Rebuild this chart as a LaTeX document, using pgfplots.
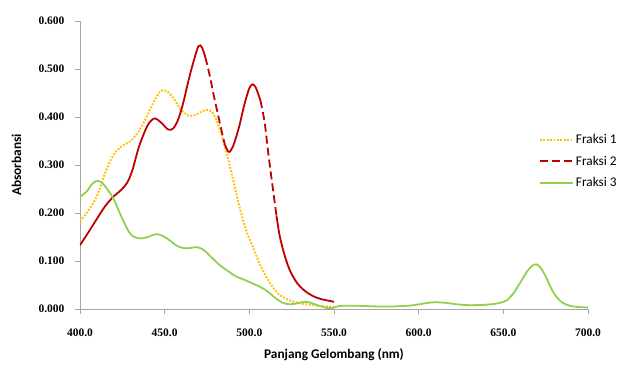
\documentclass[border=0pt]{standalone}
\usepackage{fontspec}
\setmainfont{Carlito}
\newfontfamily\tickfont{Liberation Serif}
\usepackage{pgfplots}
\pgfplotsset{compat=1.18}
\definecolor{c1}{HTML}{FFC000}
\definecolor{c2}{HTML}{C00000}
\definecolor{c3}{HTML}{92D050}
\begin{document}
\begin{tikzpicture}
\begin{axis}[
  at={(0,0)}, anchor=south west,
  scale only axis, width=508pt, height=288pt,
  xmin=400, xmax=700, ymin=0, ymax=0.6,
  xtick={400,450,...,700}, ytick={0,0.1,...,0.6},
  axis x line=bottom, axis y line=left,
  axis line style={-, draw=gray!70, line width=0.8pt},
  tick align=outside, major tick length=5pt,
  tick style={draw=gray!70, line width=0.8pt},
  /pgf/number format/assume math mode=true,
  xticklabel style={/pgf/number format/.cd, fixed, fixed zerofill, precision=1, /tikz/.cd, font=\tickfont\bfseries\fontsize{11.5}{12}\selectfont, yshift=-11pt},
  yticklabel style={/pgf/number format/.cd, fixed, fixed zerofill, precision=3, /tikz/.cd, font=\tickfont\bfseries\fontsize{11.5}{12}\selectfont, xshift=-7pt},
  xlabel={Panjang Gelombang (nm)}, ylabel={Absorbansi},
  every axis x label/.style={at={(axis description cs:0.5,-0.16)}, anchor=center, font=\bfseries\fontsize{13.3}{14}\selectfont},
  every axis y label/.style={at={(axis description cs:-0.125,0.5)}, rotate=90, anchor=center, font=\bfseries\fontsize{13.3}{14}\selectfont},
  legend style={at={(rel axis cs:0.903,0.613)}, anchor=north west, draw=none, fill=none, font=\fontsize{13.3}{14}\selectfont, row sep=6.6pt, inner sep=0pt},
  legend cell align=left,
  legend image code/.code={\draw[#1] (0pt,0pt) -- (33pt,0pt);},
]
% Fraksi 1
\addplot[c1, line width=2pt, dash pattern=on 1.8pt off 1.6pt, smooth, tension=0.5] coordinates {
(400,0.183)(405,0.205)(410,0.235)(415,0.285)(420,0.322)(425,0.340)(430,0.350)(435,0.372)(440,0.405)(444,0.435)(448,0.455)(452,0.452)(456,0.435)(460,0.414)(464,0.403)(468,0.404)(472,0.412)(476,0.415)(479,0.405)(482,0.380)(485,0.345)(488,0.305)(491,0.260)(494,0.215)(498,0.165)(502,0.130)(506,0.095)(510,0.067)(514,0.045)(518,0.029)(524,0.018)(530,0.012)(540,0.007)(550,0.004)};
\addlegendentry{Fraksi 1}
% Fraksi 2 (solid and dashed pieces)
\addplot[c2, line width=1.8pt, smooth, tension=0.5, forget plot] coordinates {
(400,0.133)(405,0.160)(410,0.188)(415,0.215)(420,0.235)(424,0.247)(428,0.264)(431,0.290)(435,0.340)(440,0.383)(444,0.397)(448,0.388)(452,0.374)(455,0.376)(458,0.395)(461,0.430)(464,0.475)(467,0.515)(470,0.548)(472,0.545)(474,0.525)};
\addplot[c2, line width=1.8pt, dash pattern=on 8pt off 4pt, smooth, tension=0.5] coordinates {
(474,0.525)(476.7,0.485)(479,0.445)(482.6,0.387)(485.5,0.343)};
\addlegendentry{Fraksi 2}
\addplot[c2, line width=1.8pt, smooth, tension=0.5, forget plot] coordinates {
(485.5,0.343)(487.5,0.328)(489,0.330)(491,0.345)(494,0.380)(497,0.425)(500,0.460)(502,0.468)(504,0.460)(506.5,0.435)};
\addplot[c2, line width=1.8pt, dash pattern=on 8pt off 4pt, smooth, tension=0.5, forget plot] coordinates {
(506.5,0.435)(509,0.390)(511,0.330)(513,0.275)(516,0.195)};
\addplot[c2, line width=1.8pt, smooth, tension=0.5, forget plot] coordinates {
(516,0.195)(518,0.151)(521,0.110)(524,0.080)(528,0.055)(532,0.040)(537,0.028)(542,0.021)(550,0.015)};
% Fraksi 3
\addplot[c3, line width=1.8pt, smooth, tension=0.5] coordinates {
(400,0.234)(404,0.245)(407,0.260)(410,0.267)(413,0.263)(416,0.250)(420,0.228)(425,0.188)(429,0.160)(432,0.150)(436,0.147)(440,0.150)(445,0.156)(449,0.152)(453,0.143)(457,0.132)(461,0.127)(465,0.127)(469,0.129)(473,0.123)(477,0.110)(482,0.093)(487,0.080)(492,0.068)(497,0.061)(502,0.053)(507,0.045)(511,0.036)(515,0.024)(519,0.014)(523,0.010)(527,0.011)(531,0.014)(534,0.015)(537,0.012)(541,0.007)(546,0.002)(549,0.002)(553,0.006)(560,0.007)(570,0.006)(580,0.005)(590,0.006)(597,0.008)(604,0.012)(609,0.014)(616,0.013)(622,0.010)(630,0.008)(640,0.009)(647,0.012)(652,0.018)(656,0.033)(660,0.055)(664,0.078)(667,0.090)(669.5,0.093)(672,0.086)(675,0.068)(678,0.045)(681,0.027)(685,0.013)(690,0.006)(695,0.004)(700,0.003)};
\addlegendentry{Fraksi 3}
\end{axis}
\path[use as bounding box] (-80pt,-59pt) rectangle (546pt,309pt);
\end{tikzpicture}
\end{document}
